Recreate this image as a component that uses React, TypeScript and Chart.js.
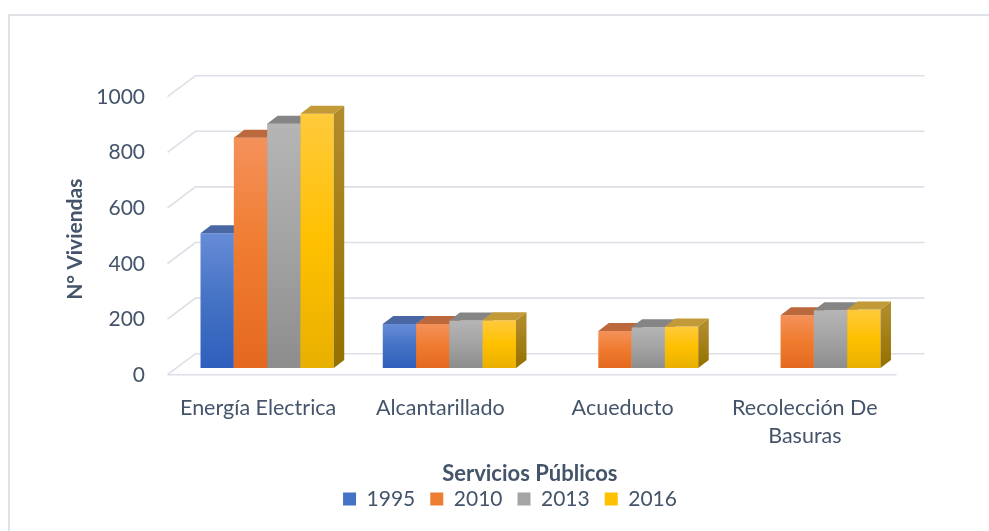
import React, { useEffect, useRef } from 'react';
import { Chart, registerables } from 'chart.js';

Chart.register(...registerables);

// ---------- data ----------
const CATEGORIES: (string | string[])[] = [
  'Energía Electrica',
  'Alcantarillado',
  'Acueducto',
  ['Recolección De', 'Basuras'],
];
const YEARS = ['1995', '2010', '2013', '2016'];
const V1995 = [485, 158, null, null];
const V2010 = [828, 158, 133, 190];
const V2013 = [879, 171, 147, 208];
const V2016 = [915, 172, 149, 210];
const Y_MIN = 0;
const Y_MAX = 1000;
const Y_STEP = 200;
const Y_TITLE = 'N° Viviendas';
const X_TITLE = 'Servicios Públicos';

// ---------- styles ----------
const TEXT = '#44546A';
const GRID = '#dcdfe5';
const FONT = 'Lato';
// front face gradient stops (top, middle, bottom)
const FRONT = [
  ['#678cd8', '#4472c4', '#2e5fbd'],
  ['#f4915a', '#ef7b2e', '#e4691f'],
  ['#b5b5b5', '#a3a3a3', '#8d8d8d'],
  ['#ffca3c', '#ffc000', '#e8b000'],
];
const TOP = ['#4a67a3', '#bb683d', '#858585', '#c29a38'];
const SIDE = [
  ['#3b5a99', '#27498a'],
  ['#b9622c', '#a8540f'],
  ['#808080', '#6a6a6a'],
  ['#b08b2a', '#947000'],
];
const LEGEND = ['#4472c4', '#ed7d31', '#a5a5a5', '#ffc000'];

// 3D geometry offsets (pixels) relative to the bars' front plane
const FX = -8.5, FY = 6.7; // front edge of floor / wall
const BX = 19.5, BY = -14.3; // back wall
const DX = 10.5, DY = -8; // bar depth

const threeD = {
  id: 'threeD',
  beforeDatasetsDraw(chart: any) {
    const { ctx, chartArea: ca } = chart;
    const ys = chart.scales.y;
    ctx.save();
    ctx.strokeStyle = GRID;
    ctx.lineWidth = 1.6;
    ctx.beginPath();
    ys.ticks.forEach((t: any) => {
      const py = ys.getPixelForValue(t.value);
      ctx.moveTo(ca.left + FX, py + FY);
      ctx.lineTo(ca.left + BX, py + BY);
      ctx.lineTo(ca.right + BX, py + BY);
    });
    const p0 = ys.getPixelForValue(0);
    ctx.moveTo(ca.left + FX, p0 + FY);
    ctx.lineTo(ca.right + FX, p0 + FY);
    ctx.stroke();
    ctx.restore();

    for (let i = 0; i < chart.data.datasets.length; i++) {
      if (!chart.isDatasetVisible(i)) continue;
      const meta = chart.getDatasetMeta(i);
      meta.controller.draw();
      meta.data.forEach((el: any, j: number) => {
        const v = chart.data.datasets[i].data[j];
        if (v === null || v === undefined) return;
        const { x, y, base, width } = el.getProps(['x', 'y', 'base', 'width'], true);
        const l = x - width / 2;
        const r = x + width / 2;
        ctx.save();
        // side face
        const sg = ctx.createLinearGradient(0, y, 0, base);
        sg.addColorStop(0, SIDE[i][0]);
        sg.addColorStop(1, SIDE[i][1]);
        ctx.fillStyle = sg;
        ctx.beginPath();
        ctx.moveTo(r, y);
        ctx.lineTo(r + DX, y + DY);
        ctx.lineTo(r + DX, base + DY);
        ctx.lineTo(r, base);
        ctx.closePath();
        ctx.fill();
        // top face
        ctx.fillStyle = TOP[i];
        ctx.beginPath();
        ctx.moveTo(l, y);
        ctx.lineTo(l + DX, y + DY);
        ctx.lineTo(r + DX, y + DY);
        ctx.lineTo(r, y);
        ctx.closePath();
        ctx.fill();
        ctx.restore();
      });
    }
    return false;
  },
};

function frontFill(i: number) {
  return (c: any) => {
    const chart = c.chart;
    if (c.type !== 'data' || c.raw === null || c.raw === undefined || !chart.chartArea) return LEGEND[i];
    const ys = chart.scales.y;
    const top = ys.getPixelForValue(c.raw);
    const base = ys.getPixelForValue(0);
    const g = chart.ctx.createLinearGradient(0, top, 0, base);
    g.addColorStop(0, FRONT[i][0]);
    g.addColorStop(0.5, FRONT[i][1]);
    g.addColorStop(1, FRONT[i][2]);
    return g;
  };
}

export default function App() {
  const ref = useRef<HTMLCanvasElement | null>(null);
  useEffect(() => {
    if (!ref.current) return;
    const series = [V1995, V2010, V2013, V2016];
    const chart = new Chart(ref.current, {
      type: 'bar',
      data: {
        labels: CATEGORIES as any,
        datasets: series.map((d, i) => ({
          label: YEARS[i],
          data: d as any,
          backgroundColor: frontFill(i) as any,
          borderWidth: 0,
          categoryPercentage: 0.731,
          barPercentage: 1,
          yAxisID: 'y',
        })),
      },
      options: {
        responsive: false,
        animation: false,
        devicePixelRatio: 1,
        layout: { padding: { left: 60, right: 29, top: 90, bottom: 11.5 } },
        plugins: {
          tooltip: { enabled: false },
          legend: {
            position: 'bottom',
            labels: {
              boxWidth: 13,
              boxHeight: 13,
              padding: 15,
              color: TEXT,
              font: { family: FONT, size: 21 },
              generateLabels: (ch: any) =>
                ch.data.datasets.map((ds: any, i: number) => ({
                  text: ds.label,
                  fillStyle: LEGEND[i],
                  strokeStyle: LEGEND[i],
                  lineWidth: 0,
                  hidden: !ch.isDatasetVisible(i),
                  datasetIndex: i,
                  fontColor: TEXT,
                })),
            },
          },
        },
        scales: {
          x: {
            grid: { display: false, drawTicks: false },
            border: { display: false },
            ticks: {
              color: TEXT,
              font: { family: FONT, size: 21.5, lineHeight: 1.3 },
              padding: 26,
              labelOffset: -9,
              maxRotation: 0,
              autoSkip: false,
            },
            title: {
              display: true,
              text: X_TITLE + '    ',
              color: TEXT,
              font: { family: FONT, size: 22, weight: 'bold', lineHeight: 1.2 },
              padding: { top: 0, bottom: -13.2 },
            },
            afterFit: (s: any) => {
              s.height = 105.5;
            },
          },
          y: {
            min: Y_MIN,
            max: Y_MAX,
            grid: { display: false, drawTicks: false },
            border: { display: false },
            ticks: {
              stepSize: Y_STEP,
              color: TEXT,
              font: { family: FONT, size: 21 },
              padding: 31,
              labelOffset: 7,
              callback: (v: any) => String(v),
            },
            title: {
              display: true,
              text: Y_TITLE + '    ',
              color: TEXT,
              font: { family: FONT, size: 21, weight: 'bold', lineHeight: 1.2 },
              padding: { top: 2.4, bottom: 0 },
            },
            afterFit: (s: any) => {
              s.width = 116;
            },
          },
          yRight: {
            position: 'right',
            display: true,
            grid: { display: false, drawTicks: false },
            border: { display: false },
            ticks: { display: false },
            afterFit: (s: any) => {
              s.width = 55;
            },
          },
        },
      },
      plugins: [threeD],
    });
    return () => chart.destroy();
  }, []);

  return (
    <div
      style={{
        position: 'absolute',
        left: 0,
        top: 0,
        width: 989,
        height: 531,
        overflow: 'hidden',
        background: '#ffffff',
      }}
    >
      <div
        style={{
          position: 'absolute',
          left: 8,
          top: 14,
          width: 1100,
          height: 700,
          border: '2px solid #dfe2e7',
        }}
      />
      <canvas
        ref={ref}
        width={989}
        height={531}
        style={{ position: 'absolute', left: 0, top: 0, width: 989, height: 531 }}
      />
    </div>
  );
}
